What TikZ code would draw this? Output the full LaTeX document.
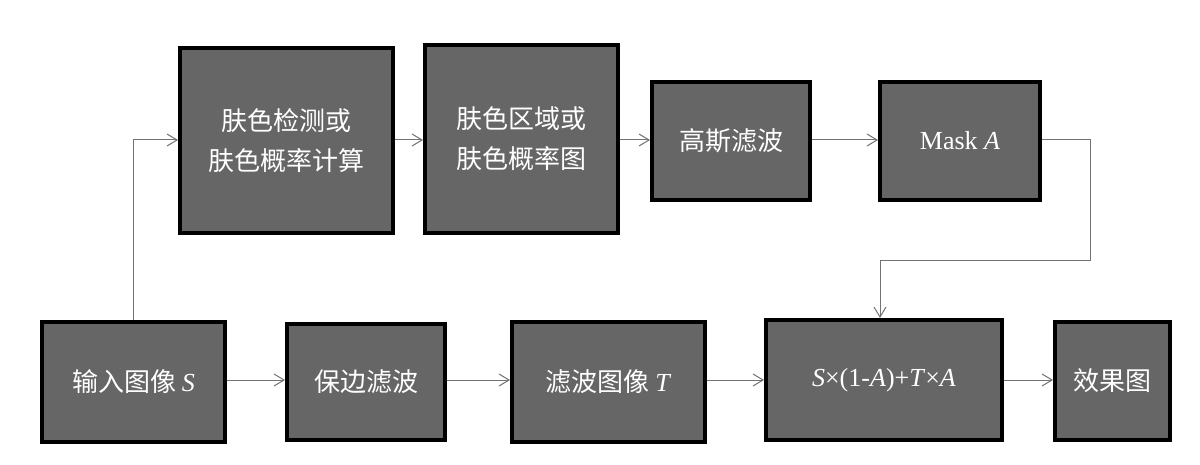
\documentclass[tikz,border=0pt]{standalone}
\usepackage{fontspec}
\setmainfont{Liberation Serif}
\newfontfamily\cjk{Noto Sans CJK SC}
\usetikzlibrary{arrows.meta}
\begin{document}
\begin{tikzpicture}[x=0.5pt,y=-0.5pt,
  bx/.style={draw=black,line width=2pt,fill=black!60,text=white,font=\cjk\fontsize{13}{20}\selectfont,align=center,inner sep=0pt},
  ar/.style={draw=black!55,line width=0.5pt,-{Straight Barb[length=5pt,width=6pt]}}]
\useasboundingbox (0,0) rectangle (1200,465);
\newcommand\bxat[5]{\node[bx,minimum width={(#3-#1)*0.5pt},minimum height={(#4-#2)*0.5pt}] (#5) at ({(#1+#3)/2},{(#2+#4)/2})}
\bxat{180}{48}{393}{233}{b1} {肤色检测或\\肤色概率计算};
\bxat{425}{45}{618}{233}{b2} {肤色区域或\\肤色概率图};
\bxat{652}{82}{810}{200}{b3} {高斯滤波};
\bxat{880}{82}{1040}{200}{b4} {\rmfamily Mask \textit{A}};
\bxat{42}{322}{225}{442}{c1} {输入图像 {\rmfamily\textit{S}}};
\bxat{287}{324}{445}{440}{c2} {保边滤波};
\bxat{512}{322}{705}{442}{c3} {滤波图像 {\rmfamily\textit{T}}};
\bxat{766}{320}{1002}{440}{c4} {\rmfamily\textit{S}×(1-\textit{A})+\textit{T}×\textit{A}};
\bxat{1055}{322}{1170}{440}{c5} {效果图};
\coordinate (k1) at (133,140);
\coordinate (k2) at (1090,140);
\coordinate (k3) at (1090,260);
\coordinate (k4) at (880,260);
\draw[ar] (c1.north -| k1) -- (k1) -- (k1 -| b1.west);
\draw[ar] (b1.east |- k1) -- (b2.west |- k1);
\draw[ar] (b2.east |- k1) -- (b3.west |- k1);
\draw[ar] (b3.east |- k1) -- (b4.west |- k1);
\draw[ar] (b4.east |- k1) -- (k2) -- (k3) -- (k4) -- (k4 |- c4.north);
\draw[ar] (c1.east |- 0,380) -- (c2.west |- 0,380);
\draw[ar] (c2.east |- 0,380) -- (c3.west |- 0,380);
\draw[ar] (c3.east |- 0,380) -- (c4.west |- 0,380);
\draw[ar] (c4.east |- 0,380) -- (c5.west |- 0,380);
\end{tikzpicture}
\end{document}
